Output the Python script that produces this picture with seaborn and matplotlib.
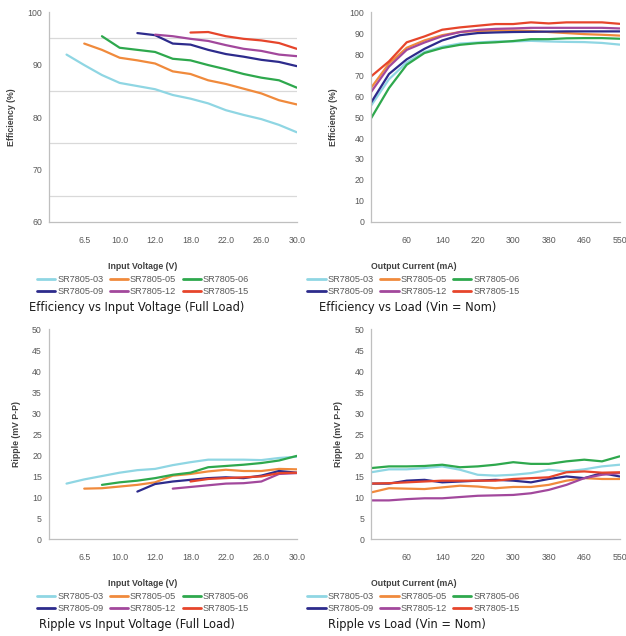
import numpy as np
import pandas as pd
import matplotlib
matplotlib.use("Agg")
import matplotlib.pyplot as plt
from matplotlib import font_manager
import seaborn as sns

nan = np.nan

models = ["SR7805-03", "SR7805-05", "SR7805-06", "SR7805-09", "SR7805-12", "SR7805-15"]
colors = ["#8fd6e3", "#f08a3c", "#2ea84d", "#2d2b8c", "#a2489c", "#e6452b"]

# category positions 0..14 on both x axes, labels on every other one
vin_ticks = ["", "", "6.5", "", "10.0", "", "12.0", "", "18.0", "", "22.0", "", "26.0", "", "30.0"]
iout_ticks = ["", "", "60", "", "140", "", "220", "", "300", "", "380", "", "460", "", "550"]

# Efficiency vs Input Voltage (Full Load)
eff_vin = {
    "SR7805-03": [nan, 91.9, 89.9, 88.0, 86.5, 85.9, 85.3, 84.2, 83.5, 82.6, 81.3, 80.4, 79.6, 78.5, 77.1],
    "SR7805-05": [nan, nan, 94.0, 92.8, 91.3, 90.8, 90.2, 88.7, 88.2, 87.0, 86.3, 85.4, 84.5, 83.2, 82.4],
    "SR7805-06": [nan, nan, nan, 95.4, 93.2, 92.8, 92.4, 91.1, 90.8, 89.9, 89.1, 88.2, 87.5, 87.0, 85.6],
    "SR7805-09": [nan, nan, nan, nan, nan, 96.0, 95.6, 94.0, 93.8, 92.8, 92.0, 91.5, 90.9, 90.5, 89.7],
    "SR7805-12": [nan, nan, nan, nan, nan, nan, 95.7, 95.4, 94.9, 94.5, 93.7, 93.0, 92.6, 91.9, 91.6],
    "SR7805-15": [nan, nan, nan, nan, nan, nan, nan, nan, 96.1, 96.2, 95.4, 94.9, 94.6, 94.1, 93.0],
}

# Efficiency vs Load (Vin = Nom)
eff_load = {
    "SR7805-03": [55.5, 68.0, 76.0, 81.0, 83.5, 85.0, 85.5, 86.0, 86.0, 86.3, 86.0, 85.8, 85.7, 85.3, 84.5],
    "SR7805-05": [64.0, 75.5, 83.0, 86.5, 89.0, 90.5, 91.0, 91.2, 91.2, 91.0, 90.5, 90.0, 89.5, 89.2, 88.8],
    "SR7805-06": [49.5, 63.8, 74.9, 80.5, 82.9, 84.4, 85.2, 85.6, 86.2, 87.1, 87.1, 87.5, 87.6, 87.6, 87.3],
    "SR7805-09": [57.0, 70.5, 77.5, 82.5, 86.5, 89.0, 90.0, 90.3, 90.5, 90.6, 90.7, 90.8, 90.8, 90.8, 90.8],
    "SR7805-12": [62.0, 74.0, 82.0, 85.5, 88.5, 90.5, 91.5, 92.0, 92.2, 92.5, 92.5, 92.5, 92.5, 92.5, 92.2],
    "SR7805-15": [69.4, 76.5, 85.6, 88.4, 91.6, 92.7, 93.5, 94.3, 94.3, 95.1, 94.6, 95.1, 95.1, 95.1, 94.4],
}

# Ripple vs Input Voltage (Full Load)
rip_vin = {
    "SR7805-03": [nan, 13.2, 14.2, 15.0, 15.8, 16.4, 16.7, 17.6, 18.3, 18.9, 18.9, 18.9, 18.8, 19.3, 19.6],
    "SR7805-05": [nan, nan, 12.0, 12.1, 12.5, 12.9, 13.5, 15.1, 15.5, 16.1, 16.5, 16.2, 16.2, 16.7, 16.6],
    "SR7805-06": [nan, nan, nan, 12.9, 13.5, 13.9, 14.5, 15.3, 15.8, 17.1, 17.4, 17.7, 18.1, 18.7, 19.8],
    "SR7805-09": [nan, nan, nan, nan, nan, 11.3, 13.1, 13.7, 14.1, 14.5, 14.7, 14.5, 15.1, 16.2, 15.8],
    "SR7805-12": [nan, nan, nan, nan, nan, nan, nan, 12.0, 12.4, 12.8, 13.2, 13.3, 13.7, 15.5, 15.7],
    "SR7805-15": [nan, nan, nan, nan, nan, nan, nan, nan, 13.7, 14.3, 14.5, 14.7, 14.9, 15.7, 15.8],
}

# Ripple vs Load (Vin = Nom)
rip_load = {
    "SR7805-03": [15.9, 16.6, 16.6, 16.9, 17.3, 16.5, 15.3, 15.1, 15.3, 15.7, 16.5, 16.1, 16.6, 17.3, 17.7],
    "SR7805-05": [11.1, 12.1, 12.0, 11.9, 12.3, 12.7, 12.5, 12.1, 12.4, 12.4, 12.9, 13.9, 14.5, 14.3, 14.3],
    "SR7805-06": [16.9, 17.3, 17.3, 17.4, 17.7, 17.1, 17.3, 17.7, 18.3, 17.9, 17.9, 18.5, 18.9, 18.5, 19.7],
    "SR7805-09": [13.2, 13.2, 13.9, 14.1, 13.5, 13.7, 13.9, 14.1, 13.9, 13.5, 14.3, 14.9, 14.5, 15.7, 14.9],
    "SR7805-12": [9.2, 9.2, 9.5, 9.7, 9.7, 10.0, 10.3, 10.4, 10.5, 10.9, 11.7, 12.9, 14.5, 15.3, 15.7],
    "SR7805-15": [13.2, 13.3, 13.5, 13.7, 13.9, 13.9, 13.9, 13.9, 14.3, 14.5, 14.7, 15.9, 16.1, 15.8, 15.9],
}

sns.set_theme(style="white")
plt.rcParams["font.family"] = ["Liberation Sans", "DejaVu Sans"]

# narrow face for the captions under each chart
installed = {f.name for f in font_manager.fontManager.ttflist}
if "Liberation Sans Narrow" in installed:
    cap_font = dict(family="Liberation Sans Narrow", fontsize=11)
elif "DejaVu Sans Condensed" in installed:
    cap_font = dict(family="DejaVu Sans Condensed", fontsize=9.6)
else:
    cap_font = dict(family="DejaVu Sans", fontstretch="condensed", fontsize=9.2)

GRID = "#d9d9d9"
AXC = "#bfbfbf"
TXT = "#595959"


def long_df(d):
    rows = []
    for m in models:
        for i, v in enumerate(d[m]):
            if not np.isnan(v):
                rows.append((i, v, m))
    return pd.DataFrame(rows, columns=["pos", "val", "model"])


def panel(rect, data, ticks, ylim, ystep, gridstep, ylabel, xlabel, xlab_x, title):
    ax = fig.add_axes(rect)
    sns.lineplot(data=long_df(data), x="pos", y="val", hue="model", hue_order=models,
                 palette=colors, linewidth=1.6, ax=ax, sort=False, legend=False)
    ax.set_xlim(0, 14)
    ax.set_ylim(*ylim)
    ax.set_xticks(range(len(ticks)))
    ax.set_xticklabels(ticks)
    ax.set_yticks(np.arange(ylim[0], ylim[1] + 0.1, ystep))
    ax.set_yticks(np.arange(ylim[0], ylim[1] + 0.1, gridstep), minor=True)
    ax.grid(False)
    ax.yaxis.grid(True, which="minor", color=GRID, linewidth=0.9)
    ax.tick_params(axis="both", which="major", length=3, width=0.7, color=AXC,
                   labelsize=6.3, labelcolor=TXT, pad=2)
    ax.tick_params(axis="x", pad=7)
    ax.tick_params(axis="y", which="minor", length=0)
    for s in ["top", "right"]:
        ax.spines[s].set_visible(False)
    for s in ["left", "bottom"]:
        ax.spines[s].set_color(AXC)
        ax.spines[s].set_linewidth(0.9)
    ax.set_ylabel(ylabel, fontsize=6.3, fontweight="bold", color="#404040", labelpad=8)
    ax.set_xlabel(xlabel, fontsize=6.3, fontweight="bold", color="#404040")
    ax.xaxis.set_label_coords(xlab_x, -0.19)

    # legend filled row by row: 03 05 06 / 09 12 15
    lines = ax.get_lines()[:len(models)]
    order = [0, 3, 1, 4, 2, 5]
    leg = ax.legend([lines[i] for i in order], [models[i] for i in order],
                    loc="upper center", bbox_to_anchor=(xlab_x, -0.235), ncol=3,
                    frameon=False, fontsize=6.6, handlelength=2.0, handletextpad=0.2,
                    columnspacing=0.7, labelspacing=0.35, borderaxespad=0)
    for t in leg.get_texts():
        t.set_color(TXT)
    for h in leg.legend_handles:
        h.set_linewidth(2.0)

    pos = ax.get_position()
    fig.text(pos.x0 + xlab_x * pos.width - 0.01, pos.y0 - 0.135, title, ha="center",
             va="center", color="#1a1a1a", **cap_font)
    return ax


fig = plt.figure(figsize=(6.26, 6.36), dpi=100)

panel([0.078, 0.651, 0.396, 0.330], eff_vin, vin_ticks, (60, 100), 10, 5,
      "Efficiency (%)", "Input Voltage (V)", 0.38, "Efficiency vs Input Voltage (Full Load)")
panel([0.593, 0.651, 0.397, 0.330], eff_load, iout_ticks, (0, 100), 10, 20,
      "Efficiency (%)", "Output Current (mA)", 0.17, "Efficiency vs Load (Vin = Nom)")
panel([0.078, 0.1525, 0.396, 0.330], rip_vin, vin_ticks, (0, 50), 5, 5,
      "Ripple (mV P-P)", "Input Voltage (V)", 0.38, "Ripple vs Input Voltage (Full Load)")
panel([0.593, 0.1525, 0.397, 0.330], rip_load, iout_ticks, (0, 50), 5, 5,
      "Ripple (mV P-P)", "Output Current (mA)", 0.17, "Ripple vs Load (Vin = Nom)")

fig.savefig("out.png", dpi=100)
